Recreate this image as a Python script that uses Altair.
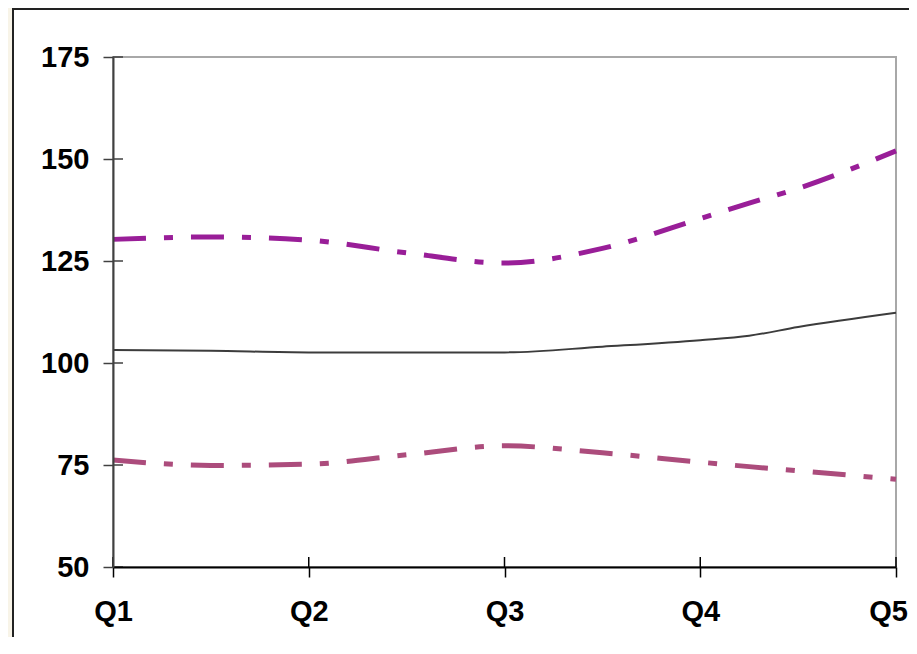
import altair as alt
import pandas as pd

# ---- data ----
x_pos = [1, 1.5, 2, 2.5, 3, 3.5, 4, 4.25, 4.5, 5]
upper = [130.3, 130.9, 130.1, 127.0, 124.5, 128.1, 135.4, 139.2, 142.8, 152.0]
middle = [103.2, 103.0, 102.6, 102.6, 102.6, 104.0, 105.6, 106.7, 108.8, 112.3]
lower = [76.2, 74.9, 75.2, 77.5, 79.7, 78.0, 75.7, 74.6, 73.6, 71.5]
quarter_labels = ["Q1", "Q2", "Q3", "Q4", "Q5"]
quarter_values = [1, 2, 3, 4, 5]
y_ticks = [50, 75, 100, 125, 150, 175]

W, H = 783, 510

rows = []
for name, vals in (("upper", upper), ("middle", middle), ("lower", lower)):
    for x, v in zip(x_pos, vals):
        rows.append({"series": name, "x": x, "v": v})
df = pd.DataFrame(rows)

label_expr = "[" + ",".join("'%s'" % q for q in quarter_labels) + "][datum.value - 1]"

xscale = alt.Scale(domain=[1, 5], nice=False, zero=False)
yscale = alt.Scale(domain=[50, 175], nice=False, zero=False)

FONT = "Liberation Sans"

x_axis = alt.Axis(values=quarter_values, labelExpr=label_expr, title=None, grid=False,
                  domainColor="#000000", domainWidth=2, tickColor="#000000", tickWidth=1.5,
                  tickSize=10, labelPadding=20, labelFont=FONT, labelFontSize=29,
                  labelFontWeight="bold", labelColor="#000000", labelFlush=False, zindex=1,
                  labelOffset=alt.ExprRef(expr="datum.value == 5 ? -8 : 0"))
y_axis = alt.Axis(values=y_ticks, title=None, grid=False,
                  domainColor="#404040", domainWidth=2, tickColor="#404040", tickWidth=1.5,
                  tickSize=10, labelPadding=14, labelFont=FONT, labelFontSize=29,
                  labelFontWeight="bold", labelColor="#000000", zindex=1)

# decorative panel (white sheet with dark border) and plot frame
panel = alt.Chart(pd.DataFrame({"a": [0]})).mark_rect(
    fill="#FFFFFF", stroke="#222222", strokeWidth=2
).encode(x=alt.value(-100), x2=alt.value(W + 200), y=alt.value(-48), y2=alt.value(H + 200))

frame = alt.Chart(pd.DataFrame({"a": [0]})).mark_rect(
    fill="#FFFFFF", stroke="#A8A8A8", strokeWidth=2
).encode(x=alt.value(0), x2=alt.value(W), y=alt.value(0), y2=alt.value(H))

base = alt.Chart(df)

def series_line(name, color, width, dash):
    props = dict(color=color, strokeWidth=width, interpolate="monotone", clip=False)
    if dash:
        props["strokeDash"] = dash
    return base.transform_filter(alt.datum.series == name).mark_line(**props).encode(
        x=alt.X("x:Q", scale=xscale, axis=x_axis),
        y=alt.Y("v:Q", scale=yscale, axis=y_axis),
    )

l_upper = series_line("upper", "#991E98", 5, [33, 18, 9, 18])
l_middle = series_line("middle", "#3C3C3C", 2, None)
l_lower = series_line("lower", "#AC4C7C", 5, [33, 18, 9, 18])

# inward halves of the crossing ticks
yt = alt.Chart(pd.DataFrame({"t": y_ticks})).mark_rule(color="#404040", strokeWidth=1.5).encode(
    y=alt.Y("t:Q", scale=yscale, axis=y_axis), x=alt.value(0), x2=alt.value(10))
xt = alt.Chart(pd.DataFrame({"q": quarter_values})).mark_rule(color="#000000", strokeWidth=1.5).encode(
    x=alt.X("q:Q", scale=xscale, axis=x_axis), y=alt.value(H - 10), y2=alt.value(H))

chart = alt.layer(panel, frame, yt, xt, l_lower, l_middle, l_upper).properties(
    width=W, height=H,
    autosize=alt.AutoSizeParams(type="none"),
    padding={"left": 105, "top": 49, "right": 13, "bottom": 70},
    background="#F8F4E8",
).configure_view(stroke=None)

chart.save("out.html", embed_options={"renderer": "svg", "actions": False})
